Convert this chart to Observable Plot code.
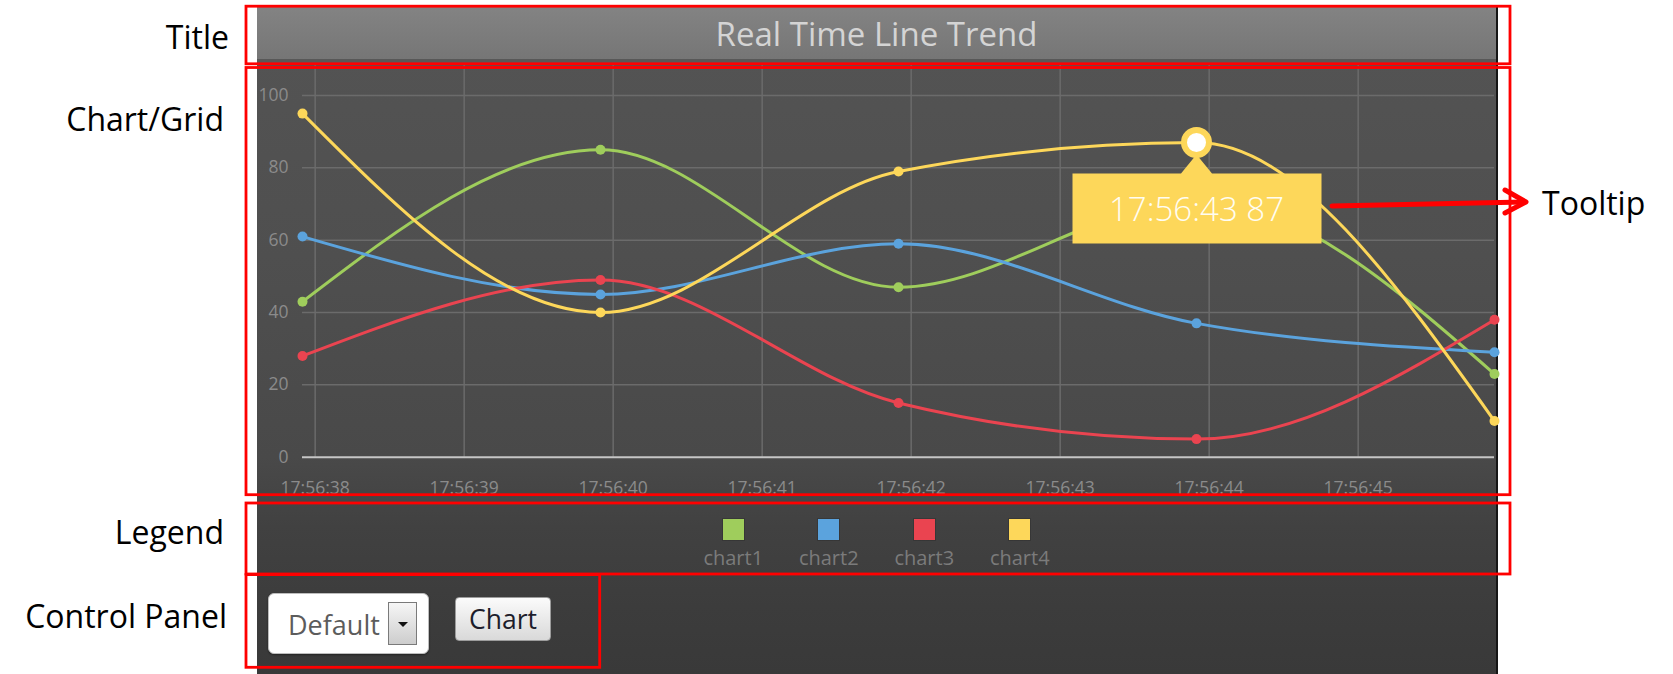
<!DOCTYPE html>
<html>
<head>
<meta charset="utf-8">
<script src="https://cdn.jsdelivr.net/npm/d3@7"></script>
<script src="https://cdn.jsdelivr.net/npm/@observablehq/plot@0.6"></script>
<style>
  html, body { margin: 0; padding: 0; background: #ffffff; }
  #page { position: relative; width: 1673px; height: 674px; overflow: hidden; font-family: "Open Sans", "DejaVu Sans", sans-serif; }
  #panel { position: absolute; left: 257px; top: 7px; width: 1239px; height: 667px;
    background: linear-gradient(180deg, #545454 0px, #4f4f4f 250px, #494949 450px, #414141 520px, #3c3c3c 600px, #393939 667px);
    border-right: 2px solid #161616; }
  #titlebar { position: absolute; left: 257px; top: 7px; width: 1239px; height: 52px;
    background: linear-gradient(180deg, #838383, #767676); border-bottom: 4px solid #585858;
    color: #d4d4d4; font-size: 33px; line-height: 54px; text-align: center; }
  #chart { position: absolute; left: 257px; top: 63px; }
  #legend { position: absolute; left: 257px; top: 519px; width: 1239px; display: flex; justify-content: center; }
  .item { width: 95.5px; display: flex; flex-direction: column; align-items: center; }
  .sw { width: 21px; height: 21px; box-shadow: 0 0 0 1px rgba(0,0,0,0.15); }
  .lab { margin-top: 6px; font-size: 20px; line-height: 24px; color: #7b7b7b; }
  #select { position: absolute; left: 268px; top: 593px; width: 161px; height: 61px; box-sizing: border-box;
    background: #ffffff; border: 1px solid #bdbdbd; border-radius: 6px; box-shadow: 0 1px 2px rgba(0,0,0,0.4); }
  #select .txt { position: absolute; left: 19px; top: 0; line-height: 61px; font-size: 27px; color: #5c5c5c; }
  #select .btn { position: absolute; left: 119px; top: 8px; width: 29px; height: 43px; box-sizing: border-box;
    border: 1px solid #7a7a7a; background: linear-gradient(180deg, #f6f6f6, #cdcdcd); }
  #select .tri { position: absolute; left: 9px; top: 19px; width: 0; height: 0;
    border-left: 5px solid transparent; border-right: 5px solid transparent; border-top: 5px solid #111; }
  #chartbtn { position: absolute; left: 455px; top: 597px; width: 96px; height: 44px; box-sizing: border-box;
    border: 1px solid #9c9c9c; border-radius: 4px; background: linear-gradient(180deg, #fbfbfb, #d9d9d9);
    font-size: 26.5px; line-height: 42px; text-align: center; color: #1d1d2b; }
  #anno { position: absolute; left: 0; top: 0; }
</style>
</head>
<body>
<div id="page">
  <div id="panel"></div>
  <div id="titlebar">Real Time Line Trend</div>
  <div id="chart"></div>
  <div id="legend"></div>
  <div id="select"><span class="txt">Default</span><div class="btn"><div class="tri"></div></div></div>
  <div id="chartbtn">Chart</div>
  <svg id="anno" width="1673" height="674" xmlns="http://www.w3.org/2000/svg">
    <g fill="none" stroke="#ff0000" stroke-width="2.8">
      <rect x="246" y="6.2" width="1264" height="57.6"></rect>
      <rect x="246" y="67.5" width="1264" height="427.2"></rect>
      <rect x="246" y="503" width="1264" height="71"></rect>
      <rect x="246" y="574.6" width="353.7" height="92.7"></rect>
    </g>
    <g stroke="#ff0000" stroke-width="5" stroke-linecap="round" stroke-linejoin="round" fill="none">
      <line x1="1332" y1="206" x2="1524" y2="202"></line>
      <polyline points="1505,190 1526,202 1505,213"></polyline>
    </g>
    <g font-family="'Open Sans', sans-serif" font-size="32" fill="#000" dominant-baseline="central">
      <text x="229" y="36" text-anchor="end">Title</text>
      <text x="224" y="118" text-anchor="end">Chart/Grid</text>
      <text x="224" y="531" text-anchor="end">Legend</text>
      <text x="227" y="615" text-anchor="end">Control Panel</text>
      <text x="1542" y="202" text-anchor="start">Tooltip</text>
    </g>
  </svg>
</div>
<script>
// ---- data ----
const times = ["17:56:37.915", "17:56:39.915", "17:56:41.915", "17:56:43.915", "17:56:45.915"];
const xTickLabels = ["17:56:38", "17:56:39", "17:56:40", "17:56:41", "17:56:42", "17:56:43", "17:56:44", "17:56:45"];
const yTicks = [0, 20, 40, 60, 80, 100];
const series = ["chart1", "chart2", "chart3", "chart4"];
const chart1 = [43, 85, 47, 71, 23];
const chart2 = [61, 45, 59, 37, 29];
const chart3 = [28, 49, 15, 5, 38];
const chart4 = [95, 40, 79, 87, 10];
const colors = ["#9fcd5c", "#5ba3dd", "#ea4450", "#fdd75a"];
const tooltipSeries = "chart4";
const tooltipIndex = 3;

// ---- build ----
const parseT = s => new Date(`2015-01-01T${s}Z`);
const fmt = d3.utcFormat("%H:%M:%S");
const values = [chart1, chart2, chart3, chart4];
const data = [];
series.forEach((s, si) => values[si].forEach((v, i) => data.push({series: s, time: parseT(times[i]), value: v})));
const xTicks = xTickLabels.map(parseT);
const tipDatum = data.find(d => d.series === tooltipSeries && +d.time === +parseT(times[tooltipIndex]));
const tipColor = colors[series.indexOf(tooltipSeries)];

const tooltipShape = {
  draw(ctx) {
    ctx.moveTo(-124, 31);
    ctx.lineTo(-15.5, 31);
    ctx.lineTo(0, 12);
    ctx.lineTo(15.5, 31);
    ctx.lineTo(125, 31);
    ctx.lineTo(125, 101);
    ctx.lineTo(-124, 101);
    ctx.closePath();
  }
};

const chart = Plot.plot({
  width: 1240,
  height: 440,
  marginLeft: 45,
  marginRight: 3,
  marginTop: 0,
  marginBottom: 46.3,
  style: {background: "transparent", fontFamily: "'Open Sans', sans-serif", fontSize: "17.5px", color: "#8b8b8b", overflow: "visible"},
  x: {type: "utc", domain: [parseT(times[0]), parseT(times[times.length - 1])], label: null},
  y: {domain: [0, 108.85], label: null},
  color: {domain: series, range: colors},
  marks: [
    Plot.gridX(xTicks, {stroke: "#6b6b6b", strokeOpacity: 1, strokeWidth: 1.5}),
    Plot.gridY(yTicks.filter(d => d > 0), {stroke: "#6b6b6b", strokeOpacity: 1, strokeWidth: 1.5}),
    Plot.axisX(xTicks, {tickSize: 0, tickPadding: 24, tickFormat: fmt, fill: "#8b8b8b", label: null}),
    Plot.axisY(yTicks, {tickSize: 0, tickPadding: 14, fill: "#8b8b8b", label: null}),
    Plot.ruleY([0], {stroke: "#c6c6c6", strokeWidth: 2}),
    Plot.line(data, {x: "time", y: "value", z: "series", stroke: "series", curve: "monotone-x", strokeWidth: 3}),
    Plot.dot(data, {x: "time", y: "value", fill: "series", r: 5}),
    Plot.dot([tipDatum], {x: "time", y: "value", symbol: tooltipShape, fill: tipColor, r: 10}),
    Plot.text([tipDatum], {x: "time", y: "value", text: d => fmt(d.time) + " " + d.value, dy: 68, fill: "#fffdf2", fontSize: 33, fontWeight: 300}),
    Plot.dot([tipDatum], {x: "time", y: "value", r: 12.5, fill: "#ffffff", stroke: tipColor, strokeWidth: 6})
  ]
});
document.getElementById("chart").appendChild(chart);

// legend
const legend = document.getElementById("legend");
series.forEach((s, i) => {
  const item = document.createElement("div");
  item.className = "item";
  item.innerHTML = `<div class="sw" style="background:${colors[i]}"></div><div class="lab">${s}</div>`;
  legend.appendChild(item);
});
</script>
</body>
</html>
